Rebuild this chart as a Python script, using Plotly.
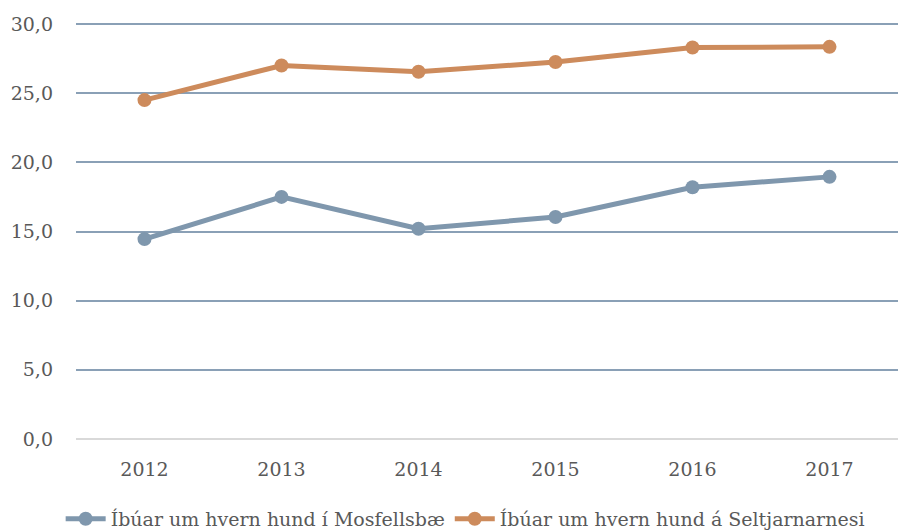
import plotly.graph_objects as go

years = ["2012", "2013", "2014", "2015", "2016", "2017"]
mosfellsbaer = [14.45, 17.5, 15.2, 16.05, 18.2, 18.95]
seltjarnarnes = [24.5, 27.0, 26.55, 27.25, 28.3, 28.35]
names = ["Íbúar um hvern hund í Mosfellsbæ", "Íbúar um hvern hund á Seltjarnarnesi"]
colors = ["#7F97AD", "#CD8B5C"]
ytick_vals = [0, 5, 10, 15, 20, 25, 30]
ytick_text = ["0,0", "5,0", "10,0", "15,0", "20,0", "25,0", "30,0"]

FONT = "DejaVu Serif"
fig = go.Figure()
for vals, name, col in zip([mosfellsbaer, seltjarnarnes], names, colors):
    fig.add_trace(go.Scatter(
        x=years, y=vals, name=name, mode="lines+markers",
        line=dict(color=col, width=5),
        marker=dict(color=col, size=14),
        cliponaxis=False,
    ))

fig.update_layout(
    width=898, height=530,
    margin=dict(l=76, r=0, t=20, b=91),
    paper_bgcolor="white", plot_bgcolor="white",
    font=dict(family=FONT, size=19, color="#595959"),
    showlegend=True,
    legend=dict(orientation="h", xref="container", x=0.518, xanchor="center",
                yref="container", y=0.021, yanchor="middle",
                font=dict(family=FONT, size=19, color="#595959"), itemwidth=40,
                tracegroupgap=0),
    xaxis=dict(type="category", range=[-0.5, 5.5], showgrid=False, showline=False,
               automargin=False,
               ticks="", ticklabelstandoff=17, tickfont=dict(family=FONT, size=19, color="#595959")),
    yaxis=dict(range=[0, 30.29], tickvals=ytick_vals, ticktext=ytick_text,
               automargin=False,
               showgrid=True, gridcolor="#8AA0B6", gridwidth=1.5,
               zeroline=True, zerolinecolor="#D9D9D9", zerolinewidth=2,
               showline=False, ticks="", ticklabelstandoff=22,
               tickfont=dict(family=FONT, size=19, color="#595959")),
)

fig.write_html("out.html", config={"displayModeBar": False},
               post_script="document.body.style.margin='0';document.body.style.overflow='hidden';")
